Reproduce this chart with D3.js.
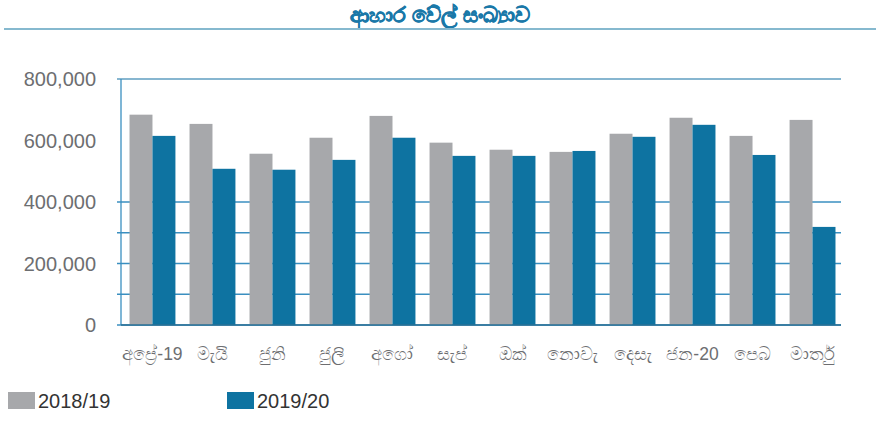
<!DOCTYPE html>
<html>
<head>
<meta charset="utf-8">
<script src="https://cdn.jsdelivr.net/npm/d3@7"></script>
<style>
  body { margin: 0; background: #fff; }
  svg { display: block; font-family: "Liberation Sans", "Noto Sans", sans-serif; }
</style>
</head>
<body>
<svg id="chart" width="884" height="423"></svg>
<script>
const months = ["අප්‍රේ-19", "මැයි", "ජුනි", "ජුලි", "අගෝ", "සැප්", "ඔක්", "නොවැ", "දෙසැ", "ජන-20", "පෙබ", "මාර්තු"];
const series = ["2018/19", "2019/20"];
const meals1819 = [684000, 654000, 557000, 609000, 680000, 593000, 570000, 563000, 622000, 674000, 615000, 667000];
const meals1920 = [615000, 508000, 505000, 537000, 609000, 550000, 550000, 566000, 612000, 651000, 553000, 319000];
const gridTicks = [0, 100000, 200000, 300000, 400000, 800000];
const labelTicks = [0, 200000, 400000, 600000, 800000];
const colors = ["#a7a8ab", "#0e73a1"];

const svg = d3.select("#chart");
const margin = {left: 121, right: 43, top: 79, bottom: 98};
const width = 884, height = 423;

// title + rule under it
svg.append("text")
  .attr("x", 440).attr("y", 22)
  .attr("text-anchor", "middle")
  .style("font-size", "21px").style("font-weight", "bold")
  .style("fill", "#1a78a8")
  .style("stroke", "#1a78a8").style("stroke-width", 0.6)
  .text("ආහාර වේල් සංඛ්‍යාව");
svg.append("line")
  .attr("x1", 4).attr("x2", 876).attr("y1", 29).attr("y2", 29)
  .style("stroke", "#86b9cf").style("stroke-width", 2);

const data = months.map((m, i) => ({month: m, values: [meals1819[i], meals1920[i]]}));

const x = d3.scaleBand()
  .domain(months)
  .range([margin.left + 1.5, width - margin.right + 1.5])
  .paddingInner(0.235)
  .paddingOuter(0.117);
const x1 = d3.scaleBand().domain(series).range([0, x.bandwidth()]);
const y = d3.scaleLinear()
  .domain([0, 800000])
  .range([height - margin.bottom, margin.top]);

// gridlines
svg.append("g")
  .selectAll("line")
  .data(gridTicks)
  .enter().append("line")
  .attr("x1", margin.left - 4).attr("x2", width - margin.right)
  .attr("y1", d => y(d)).attr("y2", d => y(d))
  .style("stroke", d => d === 800000 ? "#5f9ec0" : "#3a8fc0")
  .style("stroke-width", 1.3);

// left axis line
svg.append("line")
  .attr("x1", margin.left).attr("x2", margin.left)
  .attr("y1", y(800000)).attr("y2", y(0))
  .style("stroke", "#3a8fc0").style("stroke-width", 1.3);

// bars
const g = svg.append("g").selectAll("g")
  .data(data)
  .enter().append("g")
  .attr("transform", d => "translate(" + x(d.month) + ",0)");

g.selectAll("rect")
  .data(d => d.values.map((v, i) => ({key: series[i], value: v, idx: i})))
  .enter().append("rect")
  .attr("x", d => x1(d.key))
  .attr("width", x1.bandwidth())
  .attr("y", d => y(d.value))
  .attr("height", d => y(0) - y(d.value))
  .style("fill", d => colors[d.idx]);

// baseline on top of bars
svg.append("line")
  .attr("x1", margin.left).attr("x2", width - margin.right)
  .attr("y1", y(0)).attr("y2", y(0))
  .style("stroke", "#2a6f95").style("stroke-width", 1.5);

// y labels
svg.append("g")
  .selectAll("text")
  .data(labelTicks)
  .enter().append("text")
  .attr("x", 96)
  .attr("y", d => y(d))
  .attr("dy", "0.36em")
  .attr("text-anchor", "end")
  .style("font-size", "20px")
  .style("fill", "#6d6e71")
  .text(d => d3.format(",")(d));

// x labels
svg.append("g")
  .selectAll("text")
  .data(months)
  .enter().append("text")
  .attr("x", d => x(d) + x.bandwidth() / 2)
  .attr("y", 360)
  .attr("text-anchor", "middle")
  .style("font-size", "17.5px")
  .style("fill", "#6d6e71")
  .text(d => d);

// legend
const legend = svg.append("g").selectAll("g")
  .data(series)
  .enter().append("g")
  .attr("transform", (d, i) => "translate(" + (8 + i * 219) + ",392)");
legend.append("rect")
  .attr("width", 27).attr("height", 17)
  .style("fill", (d, i) => colors[i]);
legend.append("text")
  .attr("x", 30).attr("y", 16)
  .style("font-size", "20px")
  .style("fill", "#333")
  .text(d => d);
</script>
</body>
</html>
